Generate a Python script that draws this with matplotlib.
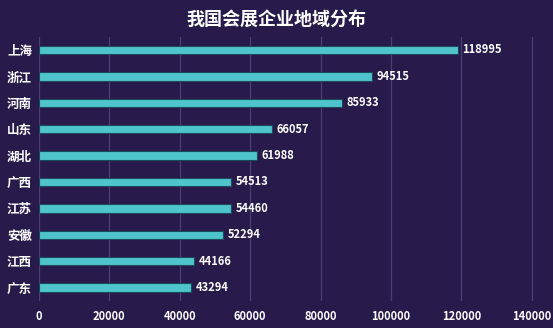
import matplotlib.pyplot as plt

plt.rcParams['font.family'] = ['Noto Sans CJK SC', 'DejaVu Sans']

# 会展企业数量（按省份）
provinces = ['上海', '浙江', '河南', '山东', '湖北', '广西', '江苏', '安徽', '江西', '广东']
counts = [118995, 94515, 85933, 66057, 61988, 54513, 54460, 52294, 44166, 43294]
xticks = [0, 20000, 40000, 60000, 80000, 100000, 120000, 140000]

bg = '#281a4b'
bar_color = '#4fc4cb'

fig = plt.figure(figsize=(5.53, 3.28), dpi=100, facecolor=bg)
ax = fig.add_axes([0.0705, 0.083, 0.9295, 0.805], facecolor=bg)

ypos = list(range(len(provinces)))[::-1]
ax.barh(ypos, counts, height=0.32, color=bar_color, edgecolor='#1d4a5c', linewidth=0.8, zorder=3)

for y, v in zip(ypos, counts):
    ax.text(v + 1300, y, str(v), color='white', fontsize=8, fontweight='bold',
            va='center', ha='left', zorder=4)

ax.set_xlim(0, 146000)
ax.set_ylim(-0.5, len(provinces) - 0.5)
ax.set_xticks(xticks)
ax.set_xticklabels([str(t) for t in xticks], color='white', fontsize=8, fontweight='bold')
ax.set_yticks(ypos)
ax.set_yticklabels(provinces, color='white', fontsize=9, fontweight='bold')
ax.tick_params(axis='both', length=0)
ax.tick_params(axis='x', pad=7)
ax.tick_params(axis='y', pad=5)

ax.grid(axis='x', color='#4b3e72', linewidth=0.9, zorder=0)
for s in ax.spines.values():
    s.set_visible(False)

fig.text(0.5, 0.942, '我国会展企业地域分布', color='white', fontsize=13, fontweight='bold',
         ha='center', va='center')

fig.savefig('out.png', dpi=100, facecolor=bg)
